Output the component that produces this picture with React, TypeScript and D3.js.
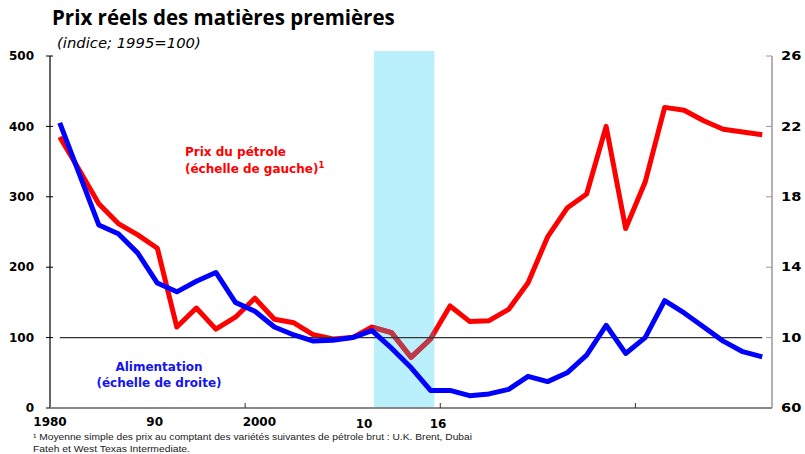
import React, { useRef, useEffect } from 'react';
import * as d3 from 'd3';

// annual data, 1980-2016
const years = d3.range(1980, 2017);
// oil price index, left scale
const oil = [385, 338, 290, 262, 246, 227, 115, 142, 112, 129, 156, 126, 121, 104, 98, 100, 115, 107, 72, 98,
  145, 123, 124, 140, 178, 243, 284, 304, 400, 255, 321, 427, 423, 408, 396, 392, 388];
// food price index, right scale
const food = [222, 193, 164, 159, 148, 131, 126, 132, 137, 120, 115, 106, 101.5, 98, 98.5, 100, 104, 94, 83, 70,
  70, 67, 68, 70.6, 78, 75, 80, 90, 107, 91, 100, 121, 114, 106, 98, 92, 89];

const leftTicks = [0, 100, 200, 300, 400, 500];
const rightTicks = [60, 100, 140, 180, 220, 260];
// right-hand labels are cut short at the chart edge in the original
const rightLabels = ['60', '10', '14', '18', '22', '26'];
const xLabelYears = [1980, 1990, 2000, 2010, 2016];
const xLabels = ['1980', '90', '2000', '10', '16'];
const xTickYears = [1989.5, 1999.5, 2009.5];
const shadeYears = [1996.1, 1999.2];

const W = 805;
const H = 454;
const FONT = '"DejaVu Sans", Verdana, sans-serif';

export default function App() {
  const ref = useRef<SVGSVGElement>(null);

  useEffect(() => {
    const svg = d3.select(ref.current);
    svg.selectAll('*').remove();

    const x = d3.scaleLinear().domain([1979.5, 2016.5]).range([50, 772]);
    const yL = d3.scaleLinear().domain([0, 500]).range([408, 56]);
    const yR = d3.scaleLinear().domain([60, 260]).range([408, 56]);
    // the year labels sit on their own (uneven) positions in the original
    const xLab = d3.scaleLinear().domain([1980, 2010, 2016]).range([50, 364, 438]);

    // title
    svg.append('text')
      .attr('x', 52).attr('y', 25)
      .attr('font-family', '"Open Sans", sans-serif')
      .attr('font-weight', 700).attr('font-size', 20.5)
      .text('Prix réels des matières premières');
    svg.append('text')
      .attr('x', 57).attr('y', 48)
      .attr('font-family', FONT)
      .attr('font-style', 'italic').attr('font-size', 14.8)
      .text('(indice; 1995=100)');

    // shaded period
    svg.append('defs').append('clipPath').attr('id', 'shade')
      .append('rect')
      .attr('x', x(shadeYears[0])).attr('y', yL(507))
      .attr('width', x(shadeYears[1]) - x(shadeYears[0]))
      .attr('height', yL(0) - yL(507));
    svg.append('rect')
      .attr('x', x(shadeYears[0])).attr('y', yL(507))
      .attr('width', x(shadeYears[1]) - x(shadeYears[0]))
      .attr('height', yL(0) - yL(507))
      .attr('fill', '#baf0fb');

    // oil line
    const lineL = d3.line<number>().x((_, i) => x(years[i])).y(d => yL(d));
    const lineR = d3.line<number>().x((_, i) => x(years[i])).y(d => yR(d));
    svg.append('path').attr('d', lineL(oil))
      .attr('fill', 'none').attr('stroke', '#ff0000')
      .attr('stroke-width', 5).attr('stroke-linejoin', 'round');
    svg.append('path').attr('d', lineL(oil))
      .attr('clip-path', 'url(#shade)')
      .attr('fill', 'none').attr('stroke', '#bc3a4a')
      .attr('stroke-width', 5).attr('stroke-linejoin', 'round');

    // 100 reference line
    svg.append('line')
      .attr('x1', x(years[0])).attr('x2', x(years[years.length - 1]))
      .attr('y1', yL(100)).attr('y2', yL(100))
      .attr('stroke', '#333').attr('stroke-width', 1.3);

    // food line
    svg.append('path').attr('d', lineR(food))
      .attr('fill', 'none').attr('stroke', '#0000ff')
      .attr('stroke-width', 5).attr('stroke-linejoin', 'round');

    // left axis
    const gl = svg.append('g');
    gl.append('line').attr('x1', 50).attr('x2', 50)
      .attr('y1', yL(500)).attr('y2', yL(0))
      .attr('stroke', '#000').attr('stroke-width', 1.2);
    leftTicks.forEach(t => {
      gl.append('line').attr('x1', 46).attr('x2', 53)
        .attr('y1', yL(t)).attr('y2', yL(t))
        .attr('stroke', '#000').attr('stroke-width', 1);
      gl.append('text').attr('x', 34).attr('y', yL(t)).attr('dy', '0.35em')
        .attr('text-anchor', 'end')
        .attr('font-family', FONT).attr('font-weight', 700).attr('font-size', 12)
        .text(t);
    });

    // right axis
    const gr = svg.append('g');
    gr.append('line').attr('x1', 772).attr('x2', 772)
      .attr('y1', yR(260)).attr('y2', yR(60))
      .attr('stroke', '#999').attr('stroke-width', 1.5);
    rightTicks.forEach((t, i) => {
      gr.append('line').attr('x1', 766).attr('x2', 772)
        .attr('y1', yR(t)).attr('y2', yR(t))
        .attr('stroke', '#999').attr('stroke-width', 1);
      gr.append('text')
        .attr('transform', `translate(781,${yR(t)}) scale(1.22,1)`)
        .attr('dy', '0.35em')
        .attr('font-family', FONT).attr('font-weight', 700).attr('font-size', 12)
        .text(rightLabels[i]);
    });

    // x axis
    const gx = svg.append('g');
    gx.append('line').attr('x1', 50).attr('x2', 772)
      .attr('y1', 408).attr('y2', 408)
      .attr('stroke', '#888').attr('stroke-width', 2);
    xTickYears.forEach(t => {
      gx.append('line').attr('x1', x(t)).attr('x2', x(t))
        .attr('y1', 403).attr('y2', 408)
        .attr('stroke', '#333').attr('stroke-width', 1);
    });
    xLabels.forEach((l, i) => {
      gx.append('text')
        .attr('x', xLab(xLabelYears[i])).attr('y', i < 3 ? 426 : 428)
        .attr('text-anchor', 'middle')
        .attr('font-family', FONT).attr('font-weight', 700).attr('font-size', 12)
        .text(l);
    });

    // series labels
    const oilLab = svg.append('text')
      .attr('font-family', FONT).attr('font-weight', 700).attr('font-size', 12)
      .attr('fill', '#ff0000');
    oilLab.append('tspan').attr('x', 185).attr('y', 156).text('Prix du pétrole');
    const l2 = oilLab.append('tspan').attr('x', 185).attr('y', 173).text('(échelle de gauche)');
    l2.append('tspan').attr('dy', -5).attr('font-size', 8.5).text('1');

    const foodLab = svg.append('text')
      .attr('font-family', FONT).attr('font-weight', 700).attr('font-size', 12)
      .attr('fill', '#1414f0').attr('text-anchor', 'middle');
    foodLab.append('tspan').attr('x', 159).attr('y', 371).text('Alimentation');
    foodLab.append('tspan').attr('x', 159).attr('y', 387).text('(échelle de droite)');

    // footnote
    const fn = svg.append('g')
      .attr('font-family', '"Liberation Sans", Arial, sans-serif')
      .attr('font-size', 9.5).attr('fill', '#222');
    fn.append('text').attr('x', 33).attr('y', 440)
      .attr('textLength', 439).attr('lengthAdjust', 'spacingAndGlyphs')
      .text('¹ Moyenne simple des prix au comptant des variétés suivantes de pétrole brut : U.K. Brent, Dubai');
    fn.append('text').attr('x', 33).attr('y', 452)
      .attr('textLength', 157).attr('lengthAdjust', 'spacingAndGlyphs')
      .text('Fateh et West Texas Intermediate.');
  }, []);

  return (
    <div style={{ position: 'absolute', left: 0, top: 0 }}>
      <svg ref={ref} width={W} height={H} style={{ display: 'block', background: '#fff' }} />
    </div>
  );
}
